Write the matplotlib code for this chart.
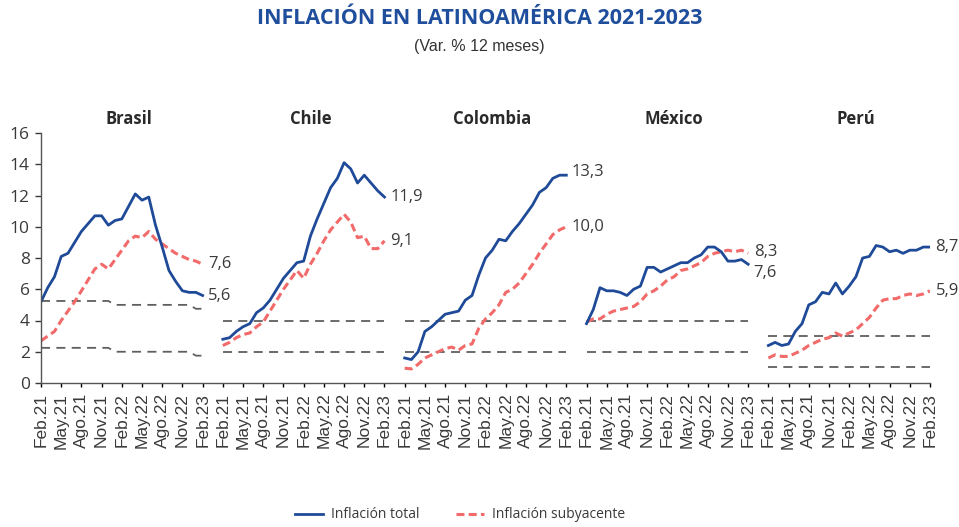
import numpy as np
import matplotlib
matplotlib.use('Agg')
import matplotlib.pyplot as plt
from matplotlib.lines import Line2D

# Inflación a 12 meses, Feb.21 - Feb.23 (25 meses por país)
paises = ['Brasil', 'Chile', 'Colombia', 'México', 'Perú']
meses_tick = ['Feb.21', 'May.21', 'Ago.21', 'Nov.21', 'Feb.22',
              'May.22', 'Ago.22', 'Nov.22', 'Feb.23']

brasil_total = [5.2, 6.1, 6.8, 8.1, 8.3, 9.0, 9.7, 10.2, 10.7, 10.7, 10.1, 10.4, 10.5,
                11.3, 12.1, 11.7, 11.9, 10.1, 8.7, 7.2, 6.5, 5.9, 5.8, 5.8, 5.6]
brasil_sub = [2.7, 3.0, 3.3, 4.0, 4.6, 5.2, 5.9, 6.6, 7.3, 7.6, 7.3, 7.9, 8.5,
              9.1, 9.4, 9.3, 9.7, 9.2, 8.9, 8.6, 8.3, 8.1, 7.9, 7.8, 7.6]
chile_total = [2.8, 2.9, 3.3, 3.6, 3.8, 4.5, 4.8, 5.3, 6.0, 6.7, 7.2, 7.7, 7.8,
               9.4, 10.5, 11.5, 12.5, 13.1, 14.1, 13.7, 12.8, 13.3, 12.8, 12.3, 11.9]
chile_sub = [2.4, 2.6, 2.9, 3.1, 3.2, 3.6, 3.9, 4.6, 5.3, 6.0, 6.6, 7.2, 6.7,
             7.6, 8.3, 9.1, 9.8, 10.3, 10.8, 10.3, 9.3, 9.4, 8.6, 8.6, 9.1]
colombia_total = [1.6, 1.5, 2.0, 3.3, 3.6, 4.0, 4.4, 4.5, 4.6, 5.3, 5.6, 6.9, 8.0,
                  8.5, 9.2, 9.1, 9.7, 10.2, 10.8, 11.4, 12.2, 12.5, 13.1, 13.3, 13.3]
colombia_sub = [0.95, 0.9, 1.2, 1.6, 1.8, 2.0, 2.2, 2.3, 2.1, 2.4, 2.5, 3.5, 4.1,
                4.5, 5.0, 5.8, 6.0, 6.4, 7.0, 7.6, 8.3, 8.9, 9.5, 9.8, 10.0]
mexico_total = [3.8, 4.7, 6.1, 5.9, 5.9, 5.8, 5.6, 6.0, 6.2, 7.4, 7.4, 7.1, 7.3,
                7.5, 7.7, 7.7, 8.0, 8.2, 8.7, 8.7, 8.4, 7.8, 7.8, 7.9, 7.6]
mexico_sub = [3.9, 4.1, 4.1, 4.4, 4.6, 4.7, 4.8, 4.9, 5.2, 5.7, 5.9, 6.2, 6.6,
              6.8, 7.2, 7.3, 7.5, 7.7, 8.1, 8.3, 8.4, 8.5, 8.4, 8.5, 8.3]
peru_total = [2.4, 2.6, 2.4, 2.5, 3.3, 3.8, 5.0, 5.2, 5.8, 5.7, 6.4, 5.7, 6.2,
              6.8, 8.0, 8.1, 8.8, 8.7, 8.4, 8.5, 8.3, 8.5, 8.5, 8.7, 8.7]
peru_sub = [1.6, 1.8, 1.7, 1.7, 1.9, 2.1, 2.4, 2.6, 2.8, 2.9, 3.2, 3.0, 3.2,
            3.4, 3.8, 4.2, 4.8, 5.3, 5.4, 5.4, 5.6, 5.7, 5.6, 5.7, 5.9]

# Rango meta de cada banco central (inferior, superior)
brasil_meta_inf = [2.25, 2.25, 2.25, 2.25, 2.25, 2.25, 2.25, 2.25, 2.25, 2.25, 2.25,
                   2.0, 2.0, 2.0, 2.0, 2.0, 2.0, 2.0, 2.0, 2.0, 2.0, 2.0, 2.0, 1.75, 1.75]
brasil_meta_sup = [5.25, 5.25, 5.25, 5.25, 5.25, 5.25, 5.25, 5.25, 5.25, 5.25, 5.25,
                   5.0, 5.0, 5.0, 5.0, 5.0, 5.0, 5.0, 5.0, 5.0, 5.0, 5.0, 5.0, 4.75, 4.75]
meta_chile = [2, 4]
meta_colombia = [2, 4]
meta_mexico = [2, 4]
meta_peru = [1, 3]

totales = [brasil_total, chile_total, colombia_total, mexico_total, peru_total]
subyacentes = [brasil_sub, chile_sub, colombia_sub, mexico_sub, peru_sub]
metas = [(brasil_meta_inf, brasil_meta_sup), meta_chile, meta_colombia, meta_mexico, meta_peru]

azul = '#1f4a98'
rojo = '#f26a6a'
gris = '#5f5f5f'
texto = '#3a3a3a'

plt.rcParams['font.family'] = ['Open Sans', 'DejaVu Sans']

fig = plt.figure(figsize=(9.59, 5.27), dpi=100)
ax = fig.add_axes([41 / 959, 1 - 383 / 527, 889 / 959, 250 / 527])

paso = 27  # 25 meses + hueco entre países
nmes = 25
for i, pais in enumerate(paises):
    x = i * paso + np.arange(nmes)
    meta = metas[i]
    if isinstance(meta, tuple):
        ax.plot(x, meta[0], color=gris, lw=1.3, dashes=(5, 3.5))
        ax.plot(x, meta[1], color=gris, lw=1.3, dashes=(5, 3.5))
    else:
        for v in meta:
            ax.plot([x[0], x[-1]], [v, v], color=gris, lw=1.3, dashes=(5, 3.5))
    ax.plot(x, subyacentes[i], color=rojo, lw=2.2, dashes=(2.6, 1.4))
    ax.plot(x, totales[i], color=azul, lw=2.0)

    # etiquetas del último dato
    vt = totales[i][-1]
    vs = subyacentes[i][-1]
    dy_t, dy_s = 0, 0
    if pais == 'México':
        dy_t, dy_s = -6, 1
    if pais == 'Colombia':
        dy_t = 2
    for v, dy in ((vt, dy_t), (vs, dy_s)):
        ax.annotate(f'{v:.1f}'.replace('.', ','), xy=(x[-1], v), xytext=(4, dy),
                    textcoords='offset points', ha='left', va='center',
                    fontsize=12, color=texto, annotation_clip=False)

    ax.text(x[12] + 1, 16.9, pais, ha='center', va='center', fontsize=12,
            fontweight='bold', color='#2a2a2a')

ax.set_xlim(0, 4 * paso + nmes - 1)
ax.set_ylim(0, 16)
ax.set_yticks(np.arange(0, 17, 2))
ax.set_xticks(np.arange(0, 4 * paso + nmes, 3))
ax.set_xticklabels(meses_tick * len(paises), rotation=90, fontsize=12.5,
                   family='Liberation Sans', color=texto)
ax.tick_params(axis='y', labelsize=12.5, colors=texto, length=4, width=1, pad=4)
ax.tick_params(axis='x', length=3, width=1, pad=4)
for s in ['top', 'right']:
    ax.spines[s].set_visible(False)
for s in ['left', 'bottom']:
    ax.spines[s].set_color('#555555')
    ax.spines[s].set_linewidth(1)

fig.text(0.5, 1 - 19 / 527, 'INFLACIÓN EN LATINOAMÉRICA 2021-2023', ha='center',
         va='center', fontsize=15.5, fontweight='bold', color='#1f4e9c')
fig.text(0.5, 1 - 46 / 527, '(Var. % 12 meses)', ha='center', va='center',
         fontsize=11.5, family='Liberation Sans', color='#333333')

handles = [Line2D([], [], color=azul, lw=2.0),
           Line2D([], [], color=rojo, lw=2.2, dashes=(2.6, 1.4))]
fig.legend(handles, ['Inflación total', 'Inflación subyacente'], loc='center',
           bbox_to_anchor=(0.48, 1 - 515 / 527), ncol=2, frameon=False,
           fontsize=10, handlelength=2.0, columnspacing=2.6, handletextpad=0.6,
           labelcolor=texto)

fig.savefig('out.png', dpi=100)
